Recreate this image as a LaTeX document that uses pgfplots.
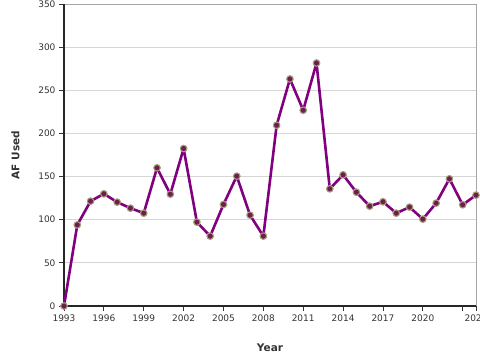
\documentclass[border=0pt]{standalone}
\usepackage{fontspec}
\setmainfont{DejaVu Sans}
\usepackage{pgfplots}
\pgfplotsset{compat=1.18}
\definecolor{linepurple}{HTML}{800080}
\definecolor{markfill}{HTML}{6B1F4A}
\definecolor{markedge}{HTML}{A89C7C}
\definecolor{gridgray}{HTML}{D6D6D6}
\definecolor{txt}{HTML}{333333}
\begin{document}
\begin{tikzpicture}
\path[use as bounding box] (-64pt,-54pt) rectangle (416pt,306pt);
\begin{axis}[
  anchor=south west, at={(0pt,0pt)},
  scale only axis, width=412pt, height=302pt,
  xmin=1993, xmax=2024, ymin=0, ymax=350,
  xtick={1993,1996,1999,2002,2005,2008,2011,2014,2017,2020,2023,2024},
  xticklabels={1993,1996,1999,2002,2005,2008,2011,2014,2017,2020,,2024},
  ytick={0,50,100,150,200,250,300,350},
  /pgf/number format/assume math mode=true,
  x tick label style={/pgf/number format/1000 sep={}, font=\fontsize{9}{10}\selectfont, text=txt},
  y tick label style={font=\fontsize{9}{10}\selectfont, text=txt},
  ymajorgrids, grid style={gridgray, line width=0.8pt},
  tick align=outside, tick pos=left,
  major tick length=5pt,
  tick style={black!80, line width=0.8pt},
  axis line style={draw=none},
  xlabel={\textbf{Year}}, ylabel={\textbf{AF Used}},
  xlabel style={font=\fontsize{10.5}{12}\selectfont, text=txt, at={(axis description cs:0.5,0)}, anchor=north, yshift=-34pt},
  ylabel style={font=\fontsize{10.5}{12}\selectfont, text=txt, yshift=12pt},
  clip=false,
]
\draw[gray!70, line width=0.8pt] (rel axis cs:0,1) -- (rel axis cs:1,1) -- (rel axis cs:1,0);
\draw[black!85, line width=1.8pt] (rel axis cs:0,1) -- (rel axis cs:0,0) -- (rel axis cs:1,0);
\addplot[linepurple, line width=2.6pt, line join=round, mark=*, mark size=3.3pt,
  mark options={fill=markfill, draw=markedge, line width=1.1pt}] coordinates {
(1993,0) (1994,94) (1995,121.5) (1996,130) (1997,120.4) (1998,113.4) (1999,107.6)
(2000,160.1) (2001,129.6) (2002,182.5) (2003,97.2) (2004,81) (2005,117.7)
(2006,150.5) (2007,105.3) (2008,81) (2009,209.5) (2010,263.1) (2011,226.9)
(2012,281.6) (2013,135.8) (2014,152) (2015,131.9) (2016,115.7) (2017,120.8)
(2018,107.6) (2019,114.6) (2020,100.7) (2021,119.2) (2022,147.4) (2023,117.3)
(2024,128.5)
};
\end{axis}
\end{tikzpicture}
\end{document}
